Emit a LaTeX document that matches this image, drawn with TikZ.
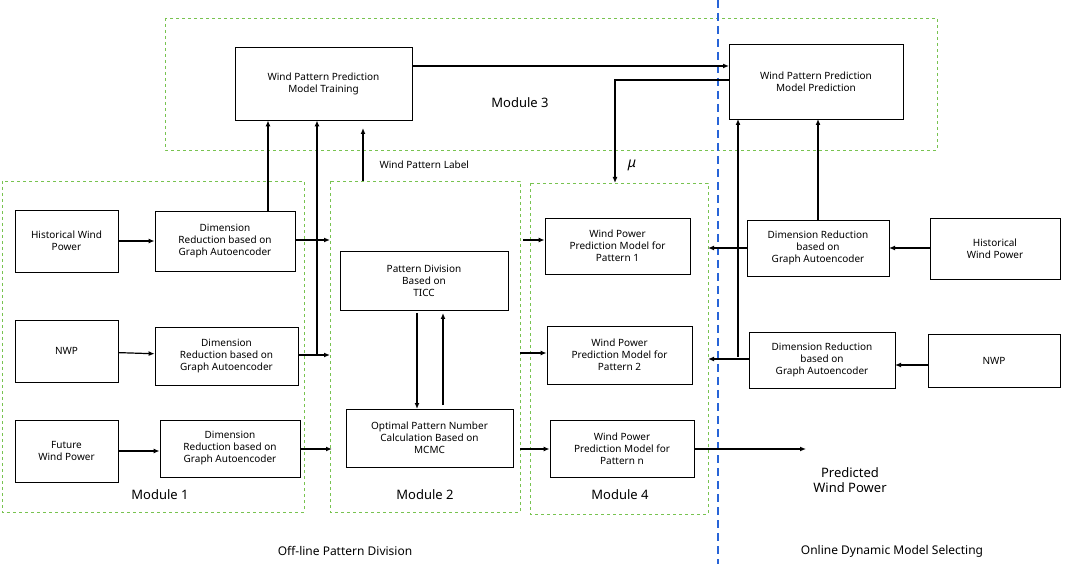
\documentclass[tikz,border=0pt]{standalone}
\usepackage{fontspec}
\setmainfont{Noto Sans}
\usetikzlibrary{arrows.meta}
\definecolor{mgreen}{RGB}{120,195,80}
\definecolor{mblue}{RGB}{40,100,215}
\begin{document}
\begin{tikzpicture}[x=1pt,y=-1pt,
 box/.style={draw,thick,align=center,font=\fontsize{10}{12}\selectfont,inner sep=0pt},
 mod/.style={draw=mgreen,dashed,thick},
 ar/.style={very thick,-{Latex[length=6pt,width=5pt]}},
 ml/.style={font=\fontsize{13}{15}\selectfont},
 bl/.style={font=\fontsize{12}{14}\selectfont}]
\useasboundingbox (0,0) rectangle (1072,564);
\draw[mod] (165,18) rectangle (937,150);
\draw[mod] (2,181) rectangle (304,512);
\draw[mod] (330,181) rectangle (520,512);
\draw[mod] (530,183) rectangle (708,514);
\draw[mblue,very thick,dash pattern=on 8pt off 5pt] (718,0) -- (718,564);
\newcommand{\bx}[6]{\node[box,minimum width=#4-#2,minimum height=#5-#3] (#1) at ({(#2+#4)/2},{(#3+#5)/2}) {#6};}
\bx{wpt}{235}{47}{412}{120}{Wind Pattern Prediction\\Model Training}
\bx{wpp}{729}{44}{903}{119}{Wind Pattern Prediction\\Model Prediction}
\bx{h1}{15}{210}{118}{272}{Historical Wind\\Power}
\bx{d1}{155}{211}{295}{271}{Dimension\\Reduction based on\\Graph Autoencoder}
\bx{n1}{15}{320}{118}{382}{NWP}
\bx{d2}{155}{327}{298}{385}{Dimension\\Reduction based on\\Graph Autoencoder}
\bx{f1}{15}{420}{118}{482}{Future\\Wind Power}
\bx{d3}{160}{420}{300}{477}{Dimension\\Reduction based on\\Graph Autoencoder}
\bx{pd}{340}{251}{508}{310}{Pattern Division\\Based on\\TICC}
\bx{op}{346}{409}{513}{467}{Optimal Pattern Number\\Calculation Based on\\MCMC}
\bx{p1}{545}{218}{690}{274}{Wind Power\\Prediction Model for\\Pattern 1}
\bx{p2}{547}{326}{692}{384}{Wind Power\\Prediction Model for\\Pattern 2}
\bx{pn}{550}{420}{694}{477}{Wind Power\\Prediction Model for\\Pattern n}
\bx{r1}{747}{220}{889}{276}{Dimension Reduction\\based on\\Graph Autoencoder}
\bx{r2}{749}{332}{895}{388}{Dimension Reduction\\based on\\Graph Autoencoder}
\bx{hr}{930}{218}{1060}{279}{Historical\\Wind Power}
\bx{nr}{928}{334}{1060}{387}{NWP}
\coordinate (m2a) at (330,240); \coordinate (m2b) at (330,355); \coordinate (m2c) at (332,449);
\coordinate (j) at (317,355);
\draw[ar] (h1) -- (d1);
\draw[ar] (n1) -- (d2);
\draw[ar] (f1.east) -- (d3.west|-f1.east);
\draw[ar] (d1.north-|268,0) -- (wpt.south-|268,0);
\draw[ar] (d1.east|-m2a) -- (m2a);
\draw[ar] (d2.east|-m2b) -- (m2b);
\draw[ar] (d3.east|-m2c) -- (m2c);
\draw[ar] (j) -- (wpt.south-|j);
\coordinate (wl) at (363,181);
\coordinate (wlTop) at (363,128);
\draw[ar] (wl) -- (wlTop);
\node[font=\fontsize{10}{12}\selectfont,anchor=west] (wlt) at (376,165) {Wind Pattern Label};
\coordinate (pdA) at (417,313); \coordinate (opA) at (417,409);
\coordinate (opB) at (443,405); \coordinate (pdB) at (443,313);
\draw[ar] (pdA) -- (opA);
\draw[ar] (opB) -- (pdB);
\coordinate (e1) at (523,240); \coordinate (e2) at (520,353); \coordinate (e3) at (520,449);
\draw[ar] (e1) -- (p1.west|-e1);
\draw[ar] (e2) -- (p2.west|-e2);
\draw[ar] (e3) -- (pn.west|-e3);
\coordinate (t1) at (412,66); \coordinate (t2) at (729,66);
\draw[ar] (t1) -- (t2);
\coordinate (s1) at (729,80); \coordinate (s2) at (615,80); \coordinate (muEnd) at (615,183);
\draw[ar] (s1) -- (s2) -- (muEnd);
\node[font=\fontsize{14}{16}\selectfont\bfseries\itshape] (muLabel) at (632,165) {μ};
\coordinate (o1) at (708,248); \coordinate (o2) at (708,359);
\draw[ar] (r1.west|-o1) -- (o1);
\draw[ar] (r2.west|-o2) -- (o2);
\coordinate (v1) at (738,357); \coordinate (v2) at (738,119);
\draw[ar] (v1) -- (v2);
\coordinate (u1) at (818,220); \coordinate (u2) at (818,119);
\draw[ar] (u1) -- (u2);
\coordinate (q1) at (889,248); \coordinate (q2) at (895,365);
\draw[ar] (hr.west|-q1) -- (q1);
\draw[ar] (nr.west|-q2) -- (q2);
\coordinate (out) at (806,449);
\draw[ar] (pn.east|-out) -- (out);
\node[ml,align=center] (pw) at (850,480) {Predicted\\Wind Power};
\node[ml] (m1) at (160,495) {Module 1};
\node[ml] (m2) at (425,495) {Module 2};
\node[ml] (m4) at (620,495) {Module 4};
\node[ml] (m3) at (520,103) {Module 3};
\node[bl] (off) at (345,551) {Off-line Pattern Division};
\node[bl] (on) at (892,551) {Online Dynamic Model Selecting};
\end{tikzpicture}
\end{document}
